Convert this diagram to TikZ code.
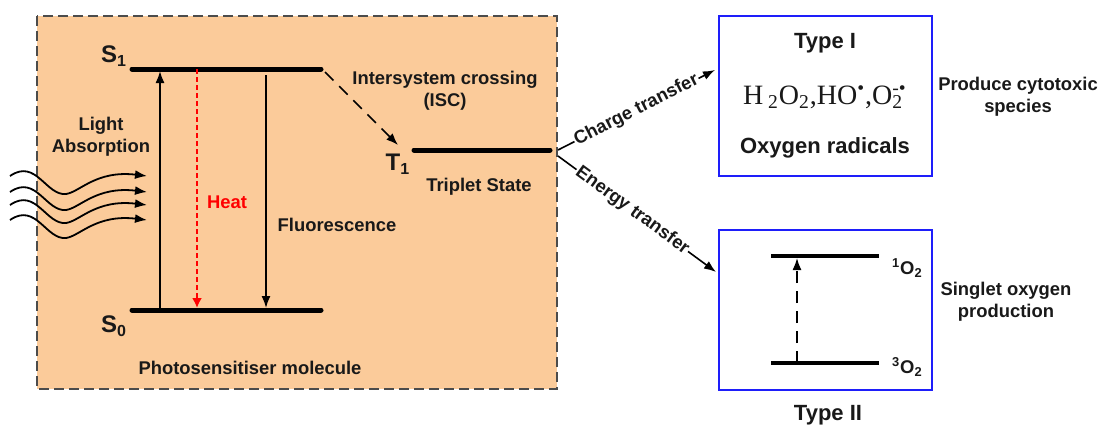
\documentclass[tikz,border=0pt]{standalone}
\usepackage{fontspec}
\setmainfont{Liberation Sans}
\newfontfamily\timesfont{Liberation Serif}
\usetikzlibrary{arrows.meta,calc}
\definecolor{peach}{RGB}{251,203,154}
\definecolor{boxblue}{RGB}{30,30,250}
\definecolor{ink}{RGB}{25,25,25}
\tikzset{
  level/.style={line width=2.5pt,line cap=round},
  trans/.style={line width=0.8pt,-{Latex[length=6pt,width=4.5pt]}},
  lbl/.style={font=\bfseries\fontsize{9.2}{11}\selectfont,align=center,text=ink},
  big/.style={font=\bfseries\fontsize{11}{13}\selectfont,text=ink},
  state/.style={font=\bfseries\fontsize{12}{14}\selectfont,text=ink},
  typebox/.style={draw=boxblue,line width=1pt,minimum width=106.5pt,minimum height=80pt},
}
\begin{document}
\begin{tikzpicture}[x=0.5pt,y=-0.5pt]
\fill[white] (0,0) rectangle (1102,429);
\useasboundingbox (0,0) rectangle (1102,429);
\draw[fill=peach,draw=black!70,line width=0.7pt,dash pattern=on 5pt off 2.5pt] (37,16) rectangle (557,389);
\coordinate (s1w) at (132,69); \coordinate (s1e) at (321,69);
\coordinate (s0w) at (132,310); \coordinate (s0e) at (321,310);
\coordinate (t1w) at (414,150); \coordinate (t1e) at (550,150);
\draw[level] (s1w) -- (s1e);
\draw[level] (s0w) -- (s0e);
\draw[level] (t1w) -- (t1e);
\node[state] (s1) at (114,56) {S\textsubscript{1}};
\node[state] (s0) at (114,326) {S\textsubscript{0}};
\node[state] (t1) at (398,164) {T\textsubscript{1}};
\foreach \y in {176,192,205,220}
  \draw[line width=0.9pt,-{Latex[length=6pt,width=4.5pt]}] (10,\y) .. controls (36,\y-18) and (46,\y+20) .. (66,\y+18) .. controls (80,\y+16) and (96,\y-6) .. (147,\y);
\node[lbl] (light) at (101,137) {Light\\Absorption};
\draw[trans] ($(s0w)+(28,0)$) -- ($(s1w)+(28,2)$);
\draw[line width=1pt,red,dash pattern=on 2.5pt off 1.5pt,-{Latex[length=5pt,width=5pt]}] ($(s1w)+(65,0)$) -- ($(s0w)+(65,-2)$);
\draw[trans] ($(s1w)+(134,6)$) -- ($(s0w)+(134,-2)$);
\node[lbl,text=red] (heat) at (227,202) {Heat};
\node[lbl] (fluo) at (337,225) {Fluorescence};
\node[lbl] (mol) at (250,368) {Photosensitiser molecule};
\draw[trans,dash pattern=on 6pt off 4pt] ($(s1e)+(4,3)$) -- ($(t1w)+(-16,-5)$);
\node[lbl] (isc) at (445,91) {Intersystem crossing\\(ISC)};
\node[lbl] (trip) at (479,187) {Triplet State};
\node[typebox] (type1) at (825.5,96) {};
\node[typebox] (type2) at (825.5,310) {};
\node[big] (t1name) at (825,43) {Type I};
\node[text=ink] (rad) at (825,97) {\timesfont\fontsize{14}{16}\selectfont H\,\textsubscript{2}O\textsubscript{2},HO\textsuperscript{•},O\rlap{\textsubscript{2}}\textsuperscript{-•}};
\node[big] (oxy) at (825,148) {Oxygen radicals};
\node[big] (t2name) at (828,415) {Type II};
\node[lbl] (cyto) at (1018,97) {Produce cytotoxic\\species};
\node[lbl] (sing) at (1006,302) {Singlet oxygen\\production};
\draw[trans] ($(t1e)+(8,0)$) -- ($(type1.west)+(-3,-26)$) node[lbl,sloped,midway,fill=white,inner sep=0.5pt] {Charge transfer};
\draw[trans] ($(t1e)+(8,6)$) -- ($(type2.west)+(-2,-38)$) node[lbl,sloped,pos=0.47,fill=white,inner sep=0.5pt] {Energy transfer};
\coordinate (o1w) at (771,256); \coordinate (o1e) at (879,256);
\coordinate (o3w) at (771,363); \coordinate (o3e) at (879,363);
\draw[line width=2pt] (o1w) -- (o1e);
\draw[line width=2pt] (o3w) -- (o3e);
\draw[trans,dash pattern=on 6pt off 4pt] ($(o3w)+(26,0)$) -- ($(o1w)+(26,2)$);
\node[lbl,anchor=west] (o1) at ($(o1e)+(6,12)$) {\textsuperscript{1}O\textsubscript{2}};
\node[lbl,anchor=west] (o3) at ($(o3e)+(6,4)$) {\textsuperscript{3}O\textsubscript{2}};
\end{tikzpicture}
\end{document}
